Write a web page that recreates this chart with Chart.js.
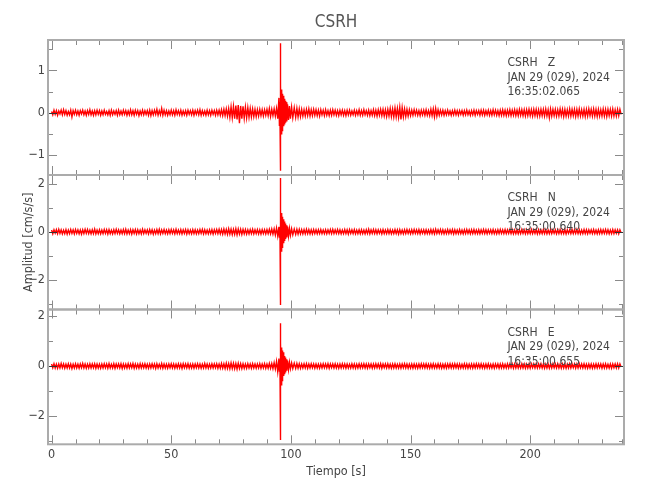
<!DOCTYPE html>
<html>
<head>
<meta charset="utf-8">
<script src="https://cdn.jsdelivr.net/npm/chart.js@4.4.1/dist/chart.umd.min.js"></script>
<style>
  html, body { margin: 0; padding: 0; background: #ffffff; }
  #wrap { position: relative; width: 650px; height: 500px; }
  #wrap canvas { position: absolute; left: 0; top: 0; }
</style>
</head>
<body>
<div id="wrap">
  <canvas id="cZ" width="650" height="500"></canvas>
  <canvas id="cN" width="650" height="500"></canvas>
  <canvas id="cE" width="650" height="500"></canvas>
</div>
<script>
// ---------- data ----------
const estacion = 'CSRH';
const componentes = ['Z', 'N', 'E'];
const fechas = ['JAN 29 (029), 2024', 'JAN 29 (029), 2024', 'JAN 29 (029), 2024'];
const horas = ['16:35:02.065', '16:35:00.640', '16:35:00.655'];

// sample times [s]
const tiempo = [
  0,0.5,1,1.5,2,2.5,3,3.5,4,4.5,5,5.5,6,6.5,7,7.5,8,8.5,9,9.5,
  10,10.5,11,11.5,12,12.5,13,13.5,14,14.5,15,15.5,16,16.5,17,17.5,18,18.5,19,19.5,
  20,20.5,21,21.5,22,22.5,23,23.5,24,24.5,25,25.5,26,26.5,27,27.5,28,28.5,29,29.5,
  30,30.5,31,31.5,32,32.5,33,33.5,34,34.5,35,35.5,36,36.5,37,37.5,38,38.5,39,39.5,
  40,40.5,41,41.5,42,42.5,43,43.5,44,44.5,45,45.5,46,46.5,47,47.5,48,48.5,49,49.5,
  50,50.5,51,51.5,52,52.5,53,53.5,54,54.5,55,55.5,56,56.5,57,57.5,58,58.5,59,59.5,
  60,60.5,61,61.5,62,62.5,63,63.5,64,64.5,65,65.5,66,66.5,67,67.5,68,68.5,69,69.5,
  70,70.5,71,71.5,72,72.5,73,73.5,74,74.5,75,75.5,76,76.5,77,77.5,78,78.5,79,79.5,
  80,80.5,81,81.5,82,82.5,83,83.5,84,84.5,85,85.5,86,86.5,87,87.5,88,88.5,89,89.5,
  90,90.5,91,91.5,92,92.5,93,93.5,94,94.5,
  95,95.2,95.35,95.45,95.5,95.55,95.65,95.75,95.85,96,96.15,96.3,96.45,96.6,96.8,97,97.2,97.4,
  97.6,97.8,98,98.3,98.6,99,99.4,99.8,100.3,100.8,101.4,102,102.5,103,103.5,104,104.5,105,
  105.5,106,106.5,107,107.5,108,108.5,109,109.5,
  110,110.5,111,111.5,112,112.5,113,113.5,114,114.5,115,115.5,116,116.5,117,117.5,118,118.5,119,119.5,
  120,120.5,121,121.5,122,122.5,123,123.5,124,124.5,125,125.5,126,126.5,127,127.5,128,128.5,129,129.5,
  130,130.5,131,131.5,132,132.5,133,133.5,134,134.5,135,135.5,136,136.5,137,137.5,138,138.5,139,139.5,
  140,140.5,141,141.5,142,142.5,143,143.5,144,144.5,145,145.5,146,146.5,147,147.5,148,148.5,149,149.5,
  150,150.5,151,151.5,152,152.5,153,153.5,154,154.5,155,155.5,156,156.5,157,157.5,158,158.5,159,159.5,
  160,160.5,161,161.5,162,162.5,163,163.5,164,164.5,165,165.5,166,166.5,167,167.5,168,168.5,169,169.5,
  170,170.5,171,171.5,172,172.5,173,173.5,174,174.5,175,175.5,176,176.5,177,177.5,178,178.5,179,179.5,
  180,180.5,181,181.5,182,182.5,183,183.5,184,184.5,185,185.5,186,186.5,187,187.5,188,188.5,189,189.5,
  190,190.5,191,191.5,192,192.5,193,193.5,194,194.5,195,195.5,196,196.5,197,197.5,198,198.5,199,199.5,
  200,200.5,201,201.5,202,202.5,203,203.5,204,204.5,205,205.5,206,206.5,207,207.5,208,208.5,209,209.5,
  210,210.5,211,211.5,212,212.5,213,213.5,214,214.5,215,215.5,216,216.5,217,217.5,218,218.5,219,219.5,
  220,220.5,221,221.5,222,222.5,223,223.5,224,224.5,225,225.5,226,226.5,227,227.5,228,228.5,229,229.5,
  230,230.5,231,231.5,232,232.5,233,233.5,234,234.5,235,235.5,236,236.5,237,237.5,238
];

// Z component [cm/s/s]
const ampZ = [
  0.03,-0.05,0.06,-0.04,0.05,-0.06,0.04,-0.03,0.06,-0.05,0.07,-0.04,0.05,-0.06,0.03,-0.05,0.06,-0.10,0.05,-0.04,
  0.06,-0.05,0.04,-0.06,0.05,-0.03,0.06,-0.05,0.04,-0.06,0.05,-0.04,0.07,-0.05,0.04,-0.06,0.05,-0.05,0.06,-0.04,
  0.05,-0.06,0.04,-0.05,0.06,-0.04,0.03,-0.05,0.05,-0.06,0.06,-0.05,0.04,-0.04,0.05,-0.06,0.06,-0.05,0.04,-0.05,
  0.06,-0.04,0.05,-0.06,0.04,-0.05,0.07,-0.05,0.05,-0.06,0.06,-0.04,0.05,-0.07,0.04,-0.05,0.06,-0.05,0.05,-0.04,
  0.05,-0.06,0.06,-0.07,0.05,-0.05,0.06,-0.04,0.08,-0.06,0.05,-0.05,0.10,-0.06,0.06,-0.05,0.05,-0.06,0.04,-0.05,
  0.06,-0.05,0.05,-0.06,0.07,-0.04,0.05,-0.05,0.06,-0.06,0.04,-0.05,0.05,-0.06,0.06,-0.04,0.05,-0.05,0.06,-0.06,
  0.05,-0.04,0.06,-0.05,0.07,-0.06,0.05,-0.05,0.04,-0.06,0.06,-0.05,0.05,-0.06,0.06,-0.04,0.05,-0.06,0.06,-0.05,
  0.06,-0.06,0.07,-0.07,0.08,-0.07,0.09,-0.08,0.10,-0.11,0.14,-0.12,0.15,-0.14,0.17,-0.16,0.18,-0.25,0.16,-0.14,
  0.15,-0.13,0.13,-0.12,0.12,-0.11,0.10,-0.10,0.09,-0.09,0.08,-0.09,0.07,-0.08,0.08,-0.07,0.07,-0.08,0.07,-0.06,
  0.08,-0.07,0.10,-0.09,0.08,-0.07,0.09,-0.08,0.10,-0.14,
  0.35,-0.30,0.25,-0.20,1.64,-1.37,0.85,-0.57,0.65,-0.50,0.55,-0.42,0.45,-0.38,0.40,-0.32,0.33,-0.28,
  0.28,-0.24,0.25,-0.21,0.20,-0.17,0.16,-0.14,0.13,-0.12,0.12,-0.11,0.10,-0.10,0.09,-0.09,0.08,-0.08,
  0.07,-0.08,0.08,-0.07,0.09,-0.08,0.07,-0.07,0.08,
  -0.06,0.07,-0.07,0.06,-0.08,0.07,-0.05,0.06,-0.07,0.07,-0.06,0.05,-0.07,0.06,-0.06,0.07,-0.05,0.06,-0.06,0.05,
  -0.07,0.06,-0.05,0.06,-0.06,0.05,-0.07,0.06,-0.05,0.06,-0.06,0.04,-0.05,0.06,-0.06,0.05,-0.05,0.07,-0.06,0.05,
  -0.06,0.07,-0.05,0.05,-0.06,0.06,-0.07,0.05,-0.06,0.07,-0.07,0.06,-0.08,0.07,-0.06,0.08,-0.07,0.08,-0.08,0.07,
  -0.09,0.08,-0.08,0.10,-0.09,0.09,-0.10,0.11,-0.10,0.10,-0.11,0.13,-0.16,0.12,-0.10,0.09,-0.09,0.08,-0.08,0.07,
  -0.07,0.06,-0.06,0.07,-0.05,0.06,-0.06,0.05,-0.07,0.06,-0.05,0.06,-0.06,0.07,-0.06,0.05,-0.07,0.08,-0.07,0.09,
  -0.10,0.10,-0.08,0.07,-0.06,0.06,-0.05,0.06,-0.06,0.05,-0.05,0.06,-0.05,0.04,-0.06,0.05,-0.05,0.06,-0.05,0.05,
  -0.06,0.05,-0.04,0.05,-0.06,0.05,-0.05,0.06,-0.05,0.04,-0.06,0.05,-0.05,0.06,-0.06,0.05,-0.04,0.05,-0.06,0.06,
  -0.05,0.06,-0.06,0.05,-0.05,0.06,-0.06,0.05,-0.06,0.07,-0.05,0.06,-0.06,0.05,-0.07,0.06,-0.06,0.07,-0.06,0.06,
  -0.07,0.06,-0.06,0.07,-0.07,0.06,-0.06,0.07,-0.07,0.06,-0.07,0.08,-0.06,0.07,-0.07,0.07,-0.08,0.07,-0.07,0.08,
  -0.07,0.07,-0.08,0.08,-0.07,0.08,-0.08,0.07,-0.08,0.08,-0.07,0.08,-0.08,0.09,-0.08,0.07,-0.12,0.09,-0.08,0.08,
  -0.07,0.08,-0.08,0.07,-0.08,0.09,-0.07,0.08,-0.09,0.08,-0.08,0.07,-0.08,0.09,-0.08,0.08,-0.07,0.08,-0.09,0.08,
  -0.08,0.09,-0.08,0.07,-0.08,0.08,-0.09,0.08,-0.08,0.09,-0.07,0.08,-0.08,0.09,-0.08,0.08,-0.09,0.08,-0.08,0.07,
  -0.08,0.09,-0.08,0.08,-0.09,0.08,-0.07,0.08,-0.08,0.09,-0.08,0.07,-0.08,0.08,-0.07,0.08,-0.04
];

// N component [cm/s/s]
const ampN = [
  0.07,-0.09,0.08,-0.06,0.09,-0.08,0.10,-0.07,0.08,-0.09,0.06,-0.08,0.09,-0.10,0.07,-0.08,0.09,-0.07,0.08,-0.09,
  0.09,-0.07,0.08,-0.09,0.07,-0.10,0.08,-0.08,0.10,-0.07,0.09,-0.08,0.07,-0.09,0.08,-0.08,0.11,-0.09,0.07,-0.08,
  0.08,-0.09,0.07,-0.08,0.09,-0.07,0.08,-0.10,0.09,-0.08,0.06,-0.09,0.08,-0.08,0.10,-0.07,0.08,-0.09,0.07,-0.08,
  0.09,-0.08,0.10,-0.09,0.07,-0.08,0.09,-0.10,0.08,-0.07,0.09,-0.09,0.08,-0.08,0.07,-0.09,0.10,-0.08,0.08,-0.07,
  0.08,-0.09,0.09,-0.07,0.08,-0.10,0.07,-0.08,0.09,-0.08,0.10,-0.09,0.08,-0.07,0.09,-0.08,0.07,-0.09,0.08,-0.08,
  0.09,-0.07,0.08,-0.09,0.10,-0.08,0.07,-0.08,0.09,-0.09,0.08,-0.07,0.09,-0.10,0.08,-0.08,0.07,-0.09,0.09,-0.08,
  0.08,-0.09,0.07,-0.08,0.09,-0.07,0.10,-0.09,0.08,-0.08,0.07,-0.09,0.08,-0.08,0.09,-0.10,0.08,-0.07,0.09,-0.08,
  0.10,-0.09,0.09,-0.10,0.11,-0.09,0.10,-0.11,0.12,-0.10,0.11,-0.12,0.10,-0.11,0.12,-0.13,0.11,-0.10,0.10,-0.11,
  0.10,-0.09,0.09,-0.10,0.08,-0.09,0.09,-0.08,0.10,-0.09,0.08,-0.08,0.09,-0.09,0.08,-0.10,0.09,-0.08,0.08,-0.09,
  0.09,-0.08,0.10,-0.09,0.11,-0.10,0.12,-0.13,0.15,-0.18,
  0.20,-0.22,0.20,-0.25,2.23,-3.04,0.97,-1.10,0.90,-0.80,0.78,-0.65,0.62,-0.58,0.52,-0.48,0.42,-0.38,
  0.34,-0.30,0.27,-0.24,0.21,-0.18,0.14,-0.15,0.12,-0.13,0.11,-0.11,0.10,-0.10,0.10,-0.09,0.09,-0.09,
  0.09,-0.09,0.10,-0.08,0.09,-0.09,0.08,-0.09,0.09,
  -0.08,0.08,-0.09,0.08,-0.08,0.09,-0.08,0.07,-0.08,0.08,-0.09,0.08,-0.07,0.09,-0.08,0.10,-0.08,0.08,-0.07,0.09,
  -0.08,0.08,-0.09,0.07,-0.08,0.09,-0.08,0.08,-0.10,0.09,-0.07,0.08,-0.08,0.09,-0.09,0.07,-0.08,0.08,-0.09,0.08,
  -0.08,0.07,-0.09,0.08,-0.08,0.10,-0.09,0.08,-0.07,0.09,-0.08,0.08,-0.09,0.08,-0.07,0.08,-0.09,0.09,-0.08,0.07,
  -0.08,0.09,-0.08,0.08,-0.09,0.07,-0.08,0.09,-0.08,0.08,-0.10,0.09,-0.08,0.07,-0.09,0.08,-0.08,0.09,-0.07,0.08,
  -0.09,0.08,-0.08,0.09,-0.07,0.08,-0.08,0.09,-0.09,0.08,-0.07,0.08,-0.09,0.08,-0.08,0.07,-0.08,0.09,-0.08,0.08,
  -0.09,0.10,-0.08,0.08,-0.07,0.09,-0.08,0.08,-0.09,0.07,-0.08,0.09,-0.08,0.08,-0.07,0.09,-0.09,0.08,-0.08,0.07,
  -0.08,0.09,-0.08,0.07,-0.09,0.08,-0.08,0.09,-0.07,0.08,-0.09,0.08,-0.08,0.09,-0.08,0.07,-0.08,0.08,-0.09,0.08,
  -0.07,0.09,-0.08,0.08,-0.09,0.08,-0.07,0.08,-0.08,0.09,-0.08,0.07,-0.09,0.08,-0.08,0.09,-0.07,0.08,-0.08,0.09,
  -0.08,0.08,-0.07,0.09,-0.08,0.08,-0.09,0.07,-0.08,0.08,-0.09,0.08,-0.08,0.09,-0.07,0.08,-0.09,0.08,-0.08,0.07,
  -0.08,0.09,-0.08,0.08,-0.07,0.09,-0.09,0.08,-0.08,0.07,-0.08,0.09,-0.08,0.08,-0.09,0.07,-0.08,0.09,-0.08,0.08,
  -0.07,0.08,-0.09,0.08,-0.08,0.09,-0.08,0.07,-0.08,0.09,-0.09,0.08,-0.07,0.08,-0.08,0.09,-0.08,0.08,-0.07,0.09,
  -0.08,0.08,-0.09,0.07,-0.08,0.09,-0.08,0.08,-0.09,0.08,-0.07,0.08,-0.08,0.09,-0.08,0.07,-0.09,0.08,-0.08,0.09,
  -0.08,0.08,-0.07,0.09,-0.08,0.08,-0.09,0.07,-0.08,0.09,-0.08,0.08,-0.07,0.08,-0.09,0.08,-0.04
];

// E component [cm/s/s]
const ampE = [
  0.08,-0.07,0.09,-0.08,0.07,-0.09,0.08,-0.08,0.10,-0.07,0.08,-0.09,0.07,-0.08,0.09,-0.08,0.08,-0.10,0.07,-0.08,
  0.09,-0.08,0.07,-0.09,0.08,-0.07,0.10,-0.08,0.08,-0.09,0.07,-0.08,0.09,-0.08,0.08,-0.07,0.09,-0.09,0.08,-0.08,
  0.07,-0.09,0.08,-0.08,0.09,-0.07,0.08,-0.09,0.10,-0.08,0.07,-0.08,0.09,-0.09,0.08,-0.07,0.08,-0.08,0.09,-0.10,
  0.08,-0.08,0.07,-0.09,0.09,-0.08,0.08,-0.07,0.10,-0.09,0.08,-0.08,0.07,-0.09,0.09,-0.08,0.08,-0.07,0.09,-0.08,
  0.07,-0.09,0.08,-0.08,0.09,-0.07,0.08,-0.10,0.09,-0.08,0.07,-0.08,0.10,-0.09,0.08,-0.08,0.07,-0.09,0.08,-0.07,
  0.09,-0.08,0.08,-0.09,0.07,-0.08,0.09,-0.08,0.08,-0.10,0.09,-0.07,0.08,-0.08,0.09,-0.09,0.07,-0.08,0.08,-0.09,
  0.08,-0.07,0.09,-0.08,0.08,-0.09,0.07,-0.08,0.10,-0.08,0.08,-0.09,0.07,-0.08,0.09,-0.08,0.08,-0.07,0.09,-0.09,
  0.08,-0.09,0.10,-0.09,0.09,-0.10,0.11,-0.10,0.10,-0.11,0.12,-0.10,0.11,-0.11,0.10,-0.12,0.11,-0.10,0.09,-0.10,
  0.09,-0.09,0.08,-0.09,0.09,-0.08,0.08,-0.09,0.09,-0.08,0.08,-0.09,0.08,-0.08,0.09,-0.09,0.08,-0.08,0.09,-0.09,
  0.08,-0.09,0.10,-0.09,0.10,-0.11,0.13,-0.12,0.18,-0.23,
  0.30,-0.20,0.25,-0.22,1.70,-2.95,1.10,-1.02,0.92,-0.75,0.74,-0.58,0.62,-0.50,0.55,-0.40,0.40,-0.33,
  0.34,-0.26,0.27,-0.19,0.22,-0.14,0.15,-0.11,0.12,-0.10,0.11,-0.10,0.10,-0.09,0.09,-0.09,0.08,-0.08,
  0.09,-0.08,0.09,-0.09,0.08,-0.08,0.09,-0.07,0.08,
  -0.09,0.08,-0.08,0.07,-0.09,0.08,-0.08,0.09,-0.07,0.08,-0.08,0.09,-0.09,0.08,-0.07,0.08,-0.08,0.09,-0.08,0.07,
  -0.09,0.08,-0.08,0.09,-0.07,0.08,-0.09,0.08,-0.08,0.07,-0.08,0.09,-0.08,0.08,-0.09,0.07,-0.08,0.09,-0.08,0.08,
  -0.07,0.09,-0.08,0.08,-0.09,0.08,-0.07,0.08,-0.09,0.08,-0.08,0.09,-0.07,0.08,-0.08,0.09,-0.09,0.08,-0.07,0.08,
  -0.08,0.09,-0.08,0.07,-0.09,0.08,-0.08,0.09,-0.08,0.07,-0.08,0.08,-0.09,0.08,-0.07,0.09,-0.08,0.08,-0.09,0.07,
  -0.08,0.08,-0.09,0.08,-0.08,0.07,-0.09,0.08,-0.08,0.09,-0.07,0.08,-0.08,0.09,-0.08,0.07,-0.09,0.08,-0.08,0.09,
  -0.08,0.07,-0.08,0.09,-0.08,0.08,-0.09,0.07,-0.08,0.08,-0.09,0.08,-0.07,0.09,-0.08,0.08,-0.08,0.09,-0.07,0.08,
  -0.09,0.08,-0.08,0.07,-0.08,0.09,-0.08,0.08,-0.09,0.07,-0.08,0.08,-0.09,0.08,-0.08,0.09,-0.07,0.08,-0.08,0.09,
  -0.08,0.07,-0.09,0.08,-0.08,0.09,-0.08,0.07,-0.08,0.08,-0.09,0.08,-0.07,0.08,-0.09,0.08,-0.08,0.09,-0.08,0.07,
  -0.08,0.09,-0.08,0.08,-0.07,0.08,-0.09,0.08,-0.08,0.09,-0.08,0.07,-0.08,0.09,-0.08,0.08,-0.09,0.07,-0.08,0.08,
  -0.09,0.08,-0.07,0.08,-0.08,0.09,-0.08,0.08,-0.07,0.09,-0.08,0.08,-0.09,0.07,-0.08,0.08,-0.09,0.08,-0.08,0.09,
  -0.07,0.08,-0.08,0.09,-0.08,0.07,-0.09,0.08,-0.08,0.08,-0.09,0.07,-0.08,0.09,-0.08,0.08,-0.07,0.08,-0.09,0.08,
  -0.08,0.09,-0.07,0.08,-0.08,0.09,-0.08,0.07,-0.09,0.08,-0.08,0.08,-0.09,0.07,-0.08,0.09,-0.08,0.08,-0.07,0.08,
  -0.09,0.08,-0.08,0.09,-0.08,0.07,-0.08,0.08,-0.09,0.08,-0.07,0.08,-0.08,0.09,-0.08,0.08,-0.04
];

// axis ticks
const etiquetasX = [0, 50, 100, 150, 200];
const marcasX = [0,10,20,30,40,50,60,70,80,90,100,110,120,130,140,150,160,170,180,190,200,210,220,230,238.2];
const marcasYZ = [-1, 0, 1];
const menoresYZ = [-0.5, 0.5, 1.5];
const marcasYNE = [-2, 0, 2];
const menoresYNE = [-3, -1, 1];

// ---------- drawing ----------
const FONT = "'DejaVu Sans Condensed', 'DejaVu Sans', sans-serif";
const TXT = '#444444';

const marcoPlugin = {
  id: 'marco',
  afterDatasetsDraw(chart, args, o) {
    const { ctx, chartArea: a } = chart;
    const xs = chart.scales.x, ys = chart.scales.y;
    ctx.save();
    ctx.lineWidth = 1;
    ctx.strokeStyle = '#8a8a8a';
    ctx.beginPath();
    marcasX.forEach(v => {
      const p = Math.round(xs.getPixelForValue(v)) + 0.5;
      const len = (v % 50 === 0) ? 9 : 5;
      ctx.moveTo(p, a.top); ctx.lineTo(p, a.top + len);
      ctx.moveTo(p, a.bottom); ctx.lineTo(p, a.bottom - len);
    });
    o.mayores.forEach(v => {
      if (v === 0) return;
      const p = Math.round(ys.getPixelForValue(v)) + 0.5;
      ctx.moveTo(a.left, p); ctx.lineTo(a.left + 9, p);
      ctx.moveTo(a.right, p); ctx.lineTo(a.right - 9, p);
    });
    o.menores.forEach(v => {
      const p = Math.round(ys.getPixelForValue(v)) + 0.5;
      ctx.moveTo(a.left, p); ctx.lineTo(a.left + 5, p);
      ctx.moveTo(a.right, p); ctx.lineTo(a.right - 5, p);
    });
    ctx.stroke();
    ctx.strokeStyle = '#333333';
    ctx.beginPath();
    const p0 = Math.round(ys.getPixelForValue(0)) + 0.5;
    ctx.moveTo(a.left, p0); ctx.lineTo(a.left + 9, p0);
    ctx.moveTo(a.right, p0); ctx.lineTo(a.right - 9, p0);
    ctx.stroke();
    ctx.strokeStyle = '#ababab';
    ctx.lineWidth = 2;
    ctx.strokeRect(a.left, a.top, a.right - a.left, a.bottom - a.top);
    ctx.fillStyle = TXT;
    ctx.font = '12px ' + FONT;
    ctx.textAlign = 'left';
    ctx.textBaseline = 'alphabetic';
    o.lineas.forEach((t, i) => ctx.fillText(t, 507.5, a.top + 26 + i * 14.5));
    ctx.restore();
  }
};

function yTickLabel(v) {
  return v < 0 ? '\u2212' + Math.abs(v) : String(v);
}

function panel(id, valores, cfg) {
  const puntos = [];
  tiempo.forEach((t, i) => { if (valores[i] !== undefined) puntos.push({ x: t, y: valores[i] }); });
  return new Chart(document.getElementById(id), {
    type: 'line',
    data: { datasets: [{ data: puntos, borderColor: '#ff0000', borderWidth: 1.4, pointRadius: 0, tension: 0, fill: false }] },
    plugins: [marcoPlugin],
    options: {
      responsive: false,
      animation: false,
      parsing: false,
      normalized: true,
      events: [],
      layout: { padding: { left: 0, right: 26, top: cfg.padTop, bottom: cfg.padBottom } },
      plugins: {
        legend: { display: false },
        tooltip: { enabled: false },
        title: cfg.title ? {
          display: true, text: cfg.title, fullSize: false, color: '#555555',
          font: { family: FONT, size: 17, weight: 'normal' }, padding: { top: 12, bottom: 7.6 }
        } : { display: false },
        marco: { mayores: cfg.mayores, menores: cfg.menores, lineas: cfg.lineas }
      },
      scales: {
        x: {
          type: 'linear', min: -1.5, max: 239.2,
          display: cfg.ejeX,
          afterBuildTicks: s => { s.ticks = etiquetasX.map(v => ({ value: v })); },
          afterFit: s => { s.height = cfg.altoX || 0; },
          grid: { display: false, drawTicks: false },
          border: { display: false },
          ticks: { color: TXT, font: { family: FONT, size: 12.5 }, padding: 3, maxRotation: 0, autoSkip: false },
          title: { display: cfg.ejeX, text: 'Tiempo [s]', color: TXT, font: { family: FONT, size: 12.5 }, padding: { top: 0, bottom: 20.8 } }
        },
        y: {
          type: 'linear', min: cfg.yMin, max: cfg.yMax,
          afterBuildTicks: s => { s.ticks = cfg.mayores.map(v => ({ value: v })); },
          afterFit: s => { s.width = 48; },
          grid: { display: false, drawTicks: false },
          border: { display: false },
          ticks: { color: TXT, font: { family: FONT, size: 12.5 }, padding: 3, callback: yTickLabel, autoSkip: false },
          title: { display: !!cfg.yTitulo, text: cfg.yTitulo || '', color: TXT, font: { family: FONT, size: 12.5 }, padding: { top: 21.5 } }
        }
      }
    }
  });
}

panel('cZ', ampZ, {
  title: estacion, padTop: 0, padBottom: 325, yMin: -1.473, yMax: 1.719,
  mayores: marcasYZ, menores: menoresYZ, ejeX: false,
  lineas: [estacion + '   ' + componentes[0], fechas[0], horas[0]]
});
panel('cN', ampN, {
  padTop: 175, padBottom: 190.5, yMin: -3.228, yMax: 2.353,
  mayores: marcasYNE, menores: menoresYNE, ejeX: false, yTitulo: 'Amplitud [cm/s/s]',
  lineas: [estacion + '   ' + componentes[1], fechas[1], horas[1]]
});
panel('cE', ampE, {
  padTop: 309.5, padBottom: 0, yMin: -3.12, yMax: 2.251,
  mayores: marcasYNE, menores: menoresYNE, ejeX: true, altoX: 55.7,
  lineas: [estacion + '   ' + componentes[2], fechas[2], horas[2]]
});
</script>
</body>
</html>
